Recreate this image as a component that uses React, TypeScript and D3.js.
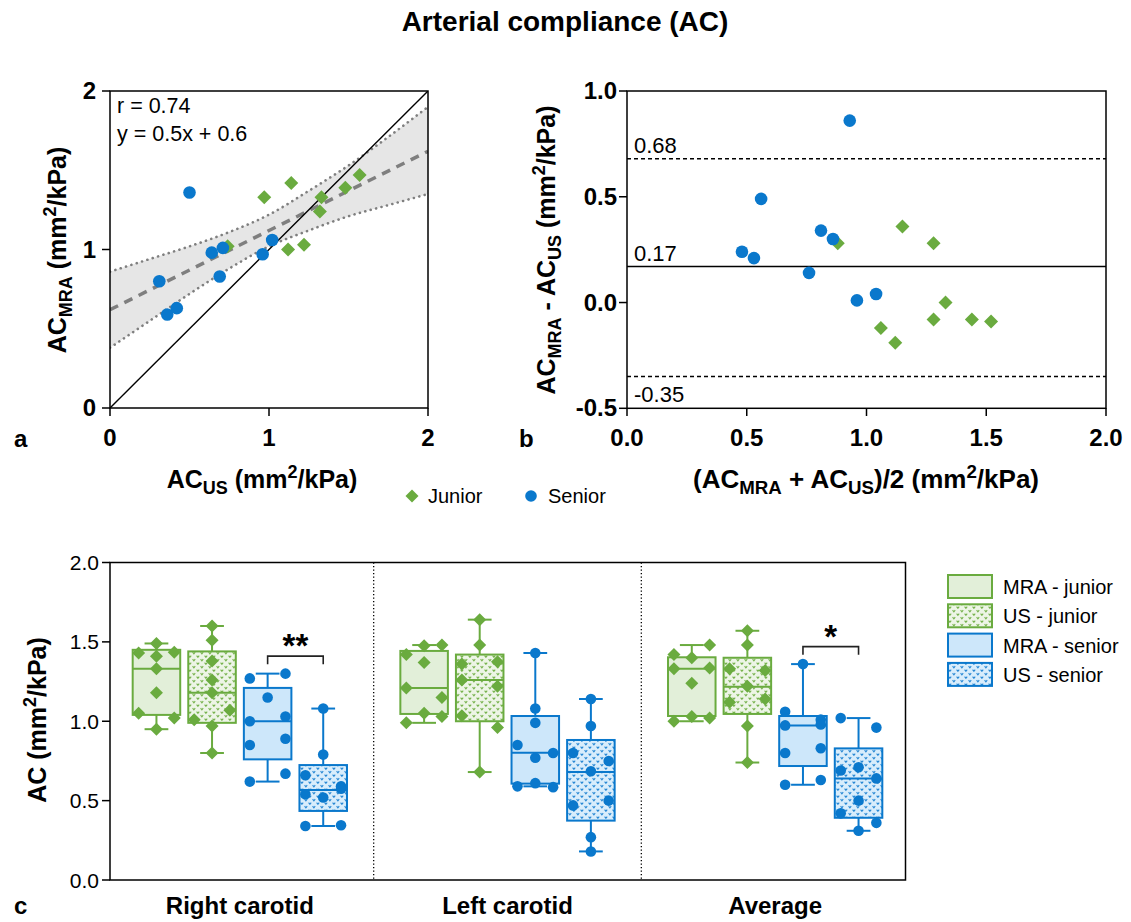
import React from 'react';
import * as d3 from 'd3';

// ---- data ----
const title = 'Arterial compliance (AC)';

// panel a: AC by US (x) vs AC by MRA (y)
const juniorUS = [0.74, 0.97, 1.14, 1.12, 1.22, 1.32, 1.33, 1.48, 1.57];
const juniorMRA = [1.02, 1.33, 1.42, 1.0, 1.03, 1.24, 1.33, 1.39, 1.47];
const seniorUS = [0.5, 0.31, 0.36, 0.42, 0.64, 0.71, 0.69, 0.96, 1.02];
const seniorMRA = [1.36, 0.8, 0.59, 0.63, 0.98, 1.01, 0.83, 0.97, 1.06];
const regSlope = 0.5;
const regIntercept = 0.62;
const bandX = [0, 0.25, 0.5, 0.75, 1.0, 1.25, 1.5, 1.75, 2.0];
const bandUpper = [0.86, 0.94, 1.02, 1.11, 1.22, 1.37, 1.53, 1.71, 1.9];
const bandLower = [0.38, 0.55, 0.72, 0.88, 1.02, 1.12, 1.21, 1.28, 1.35];
const statLines = ['r = 0.74', 'y = 0.5x + 0.6'];

// panel b: Bland-Altman
const juniorMean = [0.88, 1.15, 1.28, 1.06, 1.12, 1.28, 1.33, 1.44, 1.52];
const juniorDiff = [0.28, 0.36, 0.28, -0.12, -0.19, -0.08, 0.0, -0.08, -0.09];
const seniorMean = [0.93, 0.56, 0.48, 0.53, 0.76, 0.81, 0.86, 0.96, 1.04];
const seniorDiff = [0.86, 0.49, 0.24, 0.21, 0.14, 0.34, 0.3, 0.01, 0.04];
const baLines = [0.68, 0.17, -0.35];
const baLabels = ['0.68', '0.17', '-0.35'];

// panel c: box plots
const boxGroups = ['Right carotid', 'Left carotid', 'Average'];
const boxSeries = ['MRA - junior', 'US - junior', 'MRA - senior', 'US - senior'];
const mraJuniorPts = [
  [1.43, 1.41, 1.49, 1.435, 1.33, 1.18, 1.05, 1.02, 0.95],
  [1.42, 1.475, 1.48, 1.37, 1.21, 1.15, 0.99, 1.05, 1.03],
  [1.42, 1.48, 1.33, 1.4, 1.335, 1.24, 1.0, 1.03, 1.02],
];
const usJuniorPts = [
  [1.6, 1.51, 1.38, 1.26, 1.18, 1.01, 1.07, 0.97, 0.8],
  [1.64, 1.48, 1.36, 1.375, 1.26, 1.22, 1.035, 0.96, 0.68],
  [1.57, 1.48, 1.33, 1.32, 1.22, 1.12, 1.14, 0.97, 0.74],
];
const mraSeniorPts = [
  [1.27, 1.3, 1.15, 1.0, 1.03, 0.85, 0.89, 0.62, 0.67],
  [1.43, 1.08, 0.99, 0.85, 0.8, 0.77, 0.59, 0.61, 0.585],
  [1.36, 1.06, 1.01, 0.974, 0.98, 0.8, 0.83, 0.6, 0.63],
];
const usSeniorPts = [
  [1.08, 0.79, 0.66, 0.59, 0.54, 0.52, 0.575, 0.34, 0.345],
  [1.14, 0.97, 0.8, 0.75, 0.685, 0.47, 0.5, 0.27, 0.18],
  [1.02, 0.96, 0.69, 0.71, 0.64, 0.5, 0.42, 0.36, 0.31],
];
// [min, q1, median, q3, max]
const mraJuniorStats = [[0.95, 1.04, 1.33, 1.45, 1.49], [0.99, 1.046, 1.21, 1.443, 1.48], [1.0, 1.033, 1.331, 1.403, 1.48]];
const usJuniorStats = [[0.8, 0.99, 1.18, 1.44, 1.6], [0.68, 1.0, 1.26, 1.42, 1.64], [0.74, 1.046, 1.218, 1.4, 1.57]];
const mraSeniorStats = [[0.62, 0.76, 1.0, 1.21, 1.3], [0.59, 0.607, 0.802, 1.033, 1.43], [0.6, 0.718, 0.974, 1.033, 1.36]];
const usSeniorStats = [[0.34, 0.435, 0.567, 0.724, 1.08], [0.18, 0.374, 0.68, 0.882, 1.14], [0.31, 0.392, 0.64, 0.829, 1.02]];
const sigGroups = ['Right carotid', 'Average'];
const sigText = ['**', '*'];
const sigLevel = [1.41, 1.47];

// ---- styles ----
const FONT = 'Liberation Sans, Arial, Helvetica, sans-serif';
const GREEN = '#6aab3f';
const BLUE = '#0a78cc';
const GREEN_FILL = '#e2efd9';
const BLUE_FILL = '#cde7fa';

const diamond = (h: number) => `M0,${-h}L${h},0L0,${h}L${-h},0Z`;

type Part = [string, 'n' | 'sub' | 'sup'];
function rich(parts: Part[], fs: number) {
  let shift = 0;
  return parts.map(([t, k], i) => {
    const target = k === 'sub' ? 0.22 * fs : k === 'sup' ? -0.4 * fs : 0;
    const dy = target - shift;
    shift = target;
    return (
      <tspan key={i} dy={dy} fontSize={k === 'n' ? fs : fs * 0.72} style={{ whiteSpace: 'pre' }}>
        {t}
      </tspan>
    );
  });
}

// spread points of similar value sideways, like a column scatter
function swarm(values: number[], y: (v: number) => number, spread: number, thr: number) {
  const order = values.map((_, i) => i).sort((a, b) => values[b] - values[a]);
  const off = values.map(() => 0);
  let row: number[] = [];
  const flush = () => {
    const r = row.slice().sort((a, b) => a - b);
    const n = r.length;
    r.forEach((k, j) => {
      off[k] = n === 1 ? 0 : -spread / 2 + (j * spread) / (n - 1);
    });
    row = [];
  };
  order.forEach(i => {
    if (row.length && Math.abs(y(values[i]) - y(values[row[0]])) > thr) flush();
    row.push(i);
  });
  flush();
  return off;
}

export default function App() {
  // * panel a scales
  const xA = d3.scaleLinear().domain([0, 2]).range([110, 428]);
  const yA = d3.scaleLinear().domain([0, 2]).range([408, 91]);
  const bandData = bandX.map((x, i) => ({ x, lo: bandLower[i], hi: bandUpper[i] }));
  const area = d3.area<any>().x(d => xA(d.x)).y0(d => yA(d.lo)).y1(d => yA(d.hi)).curve(d3.curveMonotoneX);
  const upLine = d3.line<any>().x(d => xA(d.x)).y(d => yA(d.hi)).curve(d3.curveMonotoneX);
  const loLine = d3.line<any>().x(d => xA(d.x)).y(d => yA(d.lo)).curve(d3.curveMonotoneX);

  // * panel b scales
  const xB = d3.scaleLinear().domain([0, 2]).range([627, 1106]);
  const yB = d3.scaleLinear().domain([-0.5, 1]).range([408.3, 91]);

  // * panel c scales
  const x0 = d3.scaleBand().domain(boxGroups).range([106, 909]);
  const x1 = d3.scaleBand().domain(boxSeries).range([0, x0.bandwidth()]).paddingInner(0.145).paddingOuter(0.48);
  const yC = d3.scaleLinear().domain([0, 2]).range([880, 562.5]);
  const bw = x1.bandwidth();

  const seriesPts = [mraJuniorPts, usJuniorPts, mraSeniorPts, usSeniorPts];
  const seriesStats = [mraJuniorStats, usJuniorStats, mraSeniorStats, usSeniorStats];
  const seriesFill = [GREEN_FILL, 'url(#patGreen)', BLUE_FILL, 'url(#patBlue)'];
  const seriesColor = [GREEN, GREEN, BLUE, BLUE];

  const boxes = boxGroups.flatMap((g, gi) =>
    boxSeries.map((s, si) => ({
      g,
      s,
      si,
      stats: seriesStats[si][gi],
      pts: seriesPts[si][gi],
      cx: (x0(g) as number) + (x1(s) as number) + bw / 2,
    }))
  );

  const fs = 25;

  return (
    <svg width={1131} height={922} style={{ position: 'absolute', left: 0, top: 0 }} fontFamily={FONT}>
      <defs>
        <pattern id="patGreen" width="8" height="7" patternUnits="userSpaceOnUse">
          <rect width="8" height="7" fill="#edf5e6" />
          <path d="M0.6,1.2l1.3,1.6l1.3,-1.6M4.6,4.7l1.3,1.6l1.3,-1.6" stroke="#78b34f" strokeWidth="1.1" fill="none" />
        </pattern>
        <pattern id="patBlue" width="8" height="7" patternUnits="userSpaceOnUse">
          <rect width="8" height="7" fill="#d8edfc" />
          <path d="M0.6,1.2l1.3,1.6l1.3,-1.6M4.6,4.7l1.3,1.6l1.3,-1.6" stroke="#2a89d4" strokeWidth="1.1" fill="none" />
        </pattern>
        <clipPath id="clipA">
          <rect x={110} y={91} width={318} height={317} />
        </clipPath>
      </defs>

      {/* Title */}
      <text x={565} y={31} textAnchor="middle" fontSize={28} fontWeight="bold">
        {title}
      </text>

      {/* ===== Panel a ===== */}
      <g clipPath="url(#clipA)">
        <path d={area(bandData) as string} fill="#e6e6e6" />
        <path d={upLine(bandData) as string} fill="none" stroke="#7f7f7f" strokeWidth={2.6} strokeDasharray="0.1 5.5" strokeLinecap="round" />
        <path d={loLine(bandData) as string} fill="none" stroke="#7f7f7f" strokeWidth={2.6} strokeDasharray="0.1 5.5" strokeLinecap="round" />
        <line x1={xA(0)} y1={yA(regIntercept)} x2={xA(2)} y2={yA(regIntercept + 2 * regSlope)} stroke="#7f7f7f" strokeWidth={3.5} strokeDasharray="9 7" />
        <line x1={xA(0)} y1={yA(0)} x2={xA(2)} y2={yA(2)} stroke="#000" strokeWidth={1.4} />
      </g>
      {juniorUS.map((x, i) => (
        <path key={'ja' + i} d={diamond(7)} transform={`translate(${xA(x)},${yA(juniorMRA[i])})`} fill={GREEN} />
      ))}
      {seniorUS.map((x, i) => (
        <circle key={'sa' + i} cx={xA(x)} cy={yA(seniorMRA[i])} r={6.3} fill={BLUE} />
      ))}
      <rect x={110} y={91} width={318} height={317} fill="none" stroke="#000" strokeWidth={1.5} />
      {[0, 1, 2].map(t => (
        <g key={'at' + t}>
          <line x1={102} x2={110} y1={yA(t)} y2={yA(t)} stroke="#000" strokeWidth={1.5} />
          <text x={96} y={yA(t) + 8} textAnchor="end" fontSize={24} fontWeight="bold">{t}</text>
          <line x1={xA(t)} x2={xA(t)} y1={408} y2={416} stroke="#000" strokeWidth={1.5} />
          <text x={xA(t)} y={446} textAnchor="middle" fontSize={24} fontWeight="bold">{t}</text>
        </g>
      ))}
      {statLines.map((s, i) => (
        <text key={s} x={117} y={113 + i * 28} fontSize={21.5}>{s}</text>
      ))}
      <text x={262} y={488} textAnchor="middle" fontSize={fs} fontWeight="bold">
        {rich([['AC', 'n'], ['US', 'sub'], [' (mm', 'n'], ['2', 'sup'], ['/kPa)', 'n']], fs)}
      </text>
      <text transform="translate(66,250) rotate(-90)" textAnchor="middle" fontSize={fs} fontWeight="bold">
        {rich([['AC', 'n'], ['MRA', 'sub'], [' (mm', 'n'], ['2', 'sup'], ['/kPa)', 'n']], fs)}
      </text>
      <text x={14} y={447} fontSize={24} fontWeight="bold">a</text>

      {/* legend a/b */}
      <path d={diamond(6.5)} transform="translate(412,496)" fill={GREEN} />
      <text x={428} y={503} fontSize={20}>Junior</text>
      <circle cx={531} cy={496} r={5.8} fill={BLUE} />
      <text x={548} y={503} fontSize={20}>Senior</text>

      {/* ===== Panel b ===== */}
      {baLines.map((v, i) => (
        <g key={'bl' + i}>
          <line x1={627} x2={1106} y1={yB(v)} y2={yB(v)} stroke="#000" strokeWidth={1.4} strokeDasharray={i === 1 ? undefined : '4 3'} />
          <text x={634} y={i === 2 ? yB(v) + 25 : yB(v) - 6} fontSize={22}>{baLabels[i]}</text>
        </g>
      ))}
      {juniorMean.map((x, i) => (
        <path key={'jb' + i} d={diamond(7)} transform={`translate(${xB(x)},${yB(juniorDiff[i])})`} fill={GREEN} />
      ))}
      {seniorMean.map((x, i) => (
        <circle key={'sb' + i} cx={xB(x)} cy={yB(seniorDiff[i])} r={6.3} fill={BLUE} />
      ))}
      <rect x={627} y={91} width={479} height={317.3} fill="none" stroke="#000" strokeWidth={1.5} />
      {[-0.5, 0, 0.5, 1].map(t => (
        <g key={'by' + t}>
          <line x1={619} x2={627} y1={yB(t)} y2={yB(t)} stroke="#000" strokeWidth={1.5} />
          <text x={617} y={yB(t) + 8} textAnchor="end" fontSize={24} fontWeight="bold">{d3.format('.1f')(t).replace('−', '-')}</text>
        </g>
      ))}
      {[0, 0.5, 1, 1.5, 2].map(t => (
        <g key={'bx' + t}>
          <line x1={xB(t)} x2={xB(t)} y1={408.3} y2={416} stroke="#000" strokeWidth={1.5} />
          <text x={xB(t)} y={446} textAnchor="middle" fontSize={24} fontWeight="bold">{d3.format('.1f')(t)}</text>
        </g>
      ))}
      <text x={866} y={488} textAnchor="middle" fontSize={26} fontWeight="bold">
        {rich([['(AC', 'n'], ['MRA', 'sub'], [' + AC', 'n'], ['US', 'sub'], [')/2 (mm', 'n'], ['2', 'sup'], ['/kPa)', 'n']], 26)}
      </text>
      <text transform="translate(555,250) rotate(-90)" textAnchor="middle" fontSize={fs} fontWeight="bold">
        {rich([['AC', 'n'], ['MRA', 'sub'], [' - AC', 'n'], ['US', 'sub'], [' (mm', 'n'], ['2', 'sup'], ['/kPa)', 'n']], fs)}
      </text>
      <text x={519} y={447} fontSize={24} fontWeight="bold">b</text>

      {/* ===== Panel c ===== */}
      {boxGroups.slice(1).map(g => (
        <line key={'sep' + g} x1={x0(g)} x2={x0(g)} y1={562.5} y2={880} stroke="#000" strokeWidth={1.3} strokeDasharray="1.3 2.2" />
      ))}
      {boxes.map(b => {
        const [mn, q1, md, q3, mx] = b.stats;
        const col = seriesColor[b.si];
        const off = swarm(b.pts, yC, bw * 0.75, 12.5);
        return (
          <g key={b.g + b.s}>
            <line x1={b.cx} x2={b.cx} y1={yC(q3)} y2={yC(mx)} stroke={col} strokeWidth={2} />
            <line x1={b.cx} x2={b.cx} y1={yC(q1)} y2={yC(mn)} stroke={col} strokeWidth={2} />
            <line x1={b.cx - bw / 4} x2={b.cx + bw / 4} y1={yC(mx)} y2={yC(mx)} stroke={col} strokeWidth={2} />
            <line x1={b.cx - bw / 4} x2={b.cx + bw / 4} y1={yC(mn)} y2={yC(mn)} stroke={col} strokeWidth={2} />
            <rect x={b.cx - bw / 2} y={yC(q3)} width={bw} height={yC(q1) - yC(q3)} fill={seriesFill[b.si]} stroke={col} strokeWidth={2} />
            <line x1={b.cx - bw / 2} x2={b.cx + bw / 2} y1={yC(md)} y2={yC(md)} stroke={col} strokeWidth={2} />
            {b.pts.map((v, i) =>
              b.si < 2 ? (
                <path key={i} d={diamond(6.5)} transform={`translate(${b.cx + off[i]},${yC(v)})`} fill={GREEN} />
              ) : (
                <circle key={i} cx={b.cx + off[i]} cy={yC(v)} r={5.3} fill={BLUE} />
              )
            )}
          </g>
        );
      })}
      {sigGroups.map((g, i) => {
        const xa = (x0(g) as number) + (x1(boxSeries[2]) as number) + bw / 2;
        const xb = (x0(g) as number) + (x1(boxSeries[3]) as number) + bw / 2;
        const y = yC(sigLevel[i]);
        return (
          <g key={'sig' + g}>
            <path d={`M${xa},${y + 8}V${y}H${xb}V${y + 8}`} fill="none" stroke="#222" strokeWidth={1.6} />
            <text x={(xa + xb) / 2} y={y + 1} textAnchor="middle" fontSize={33} fontWeight="bold">{sigText[i]}</text>
          </g>
        );
      })}
      <rect x={110} y={562.5} width={795.5} height={317.5} fill="none" stroke="#000" strokeWidth={1.5} />
      {[0, 0.5, 1, 1.5, 2].map(t => (
        <g key={'cy' + t}>
          <line x1={102} x2={110} y1={yC(t)} y2={yC(t)} stroke="#000" strokeWidth={1.5} />
          <text x={99} y={yC(t) + 7.5} textAnchor="end" fontSize={21}>{d3.format('.1f')(t)}</text>
        </g>
      ))}
      {boxGroups.map(g => (
        <text key={'cl' + g} x={(x0(g) as number) + x0.bandwidth() / 2} y={914} textAnchor="middle" fontSize={24} fontWeight="bold">{g}</text>
      ))}
      <text transform="translate(46,720) rotate(-90)" textAnchor="middle" fontSize={fs} fontWeight="bold">
        {rich([['AC (mm', 'n'], ['2', 'sup'], ['/kPa)', 'n']], fs)}
      </text>
      <text x={14} y={914} fontSize={24} fontWeight="bold">c</text>

      {/* legend c */}
      {boxSeries.map((s, i) => (
        <g key={'lg' + s}>
          <rect x={948} y={575 + i * 29.3} width={44} height={23} fill={seriesFill[i]} stroke={seriesColor[i]} strokeWidth={2} />
          <text x={1003} y={575 + i * 29.3 + 19} fontSize={20}>{s}</text>
        </g>
      ))}
    </svg>
  );
}
